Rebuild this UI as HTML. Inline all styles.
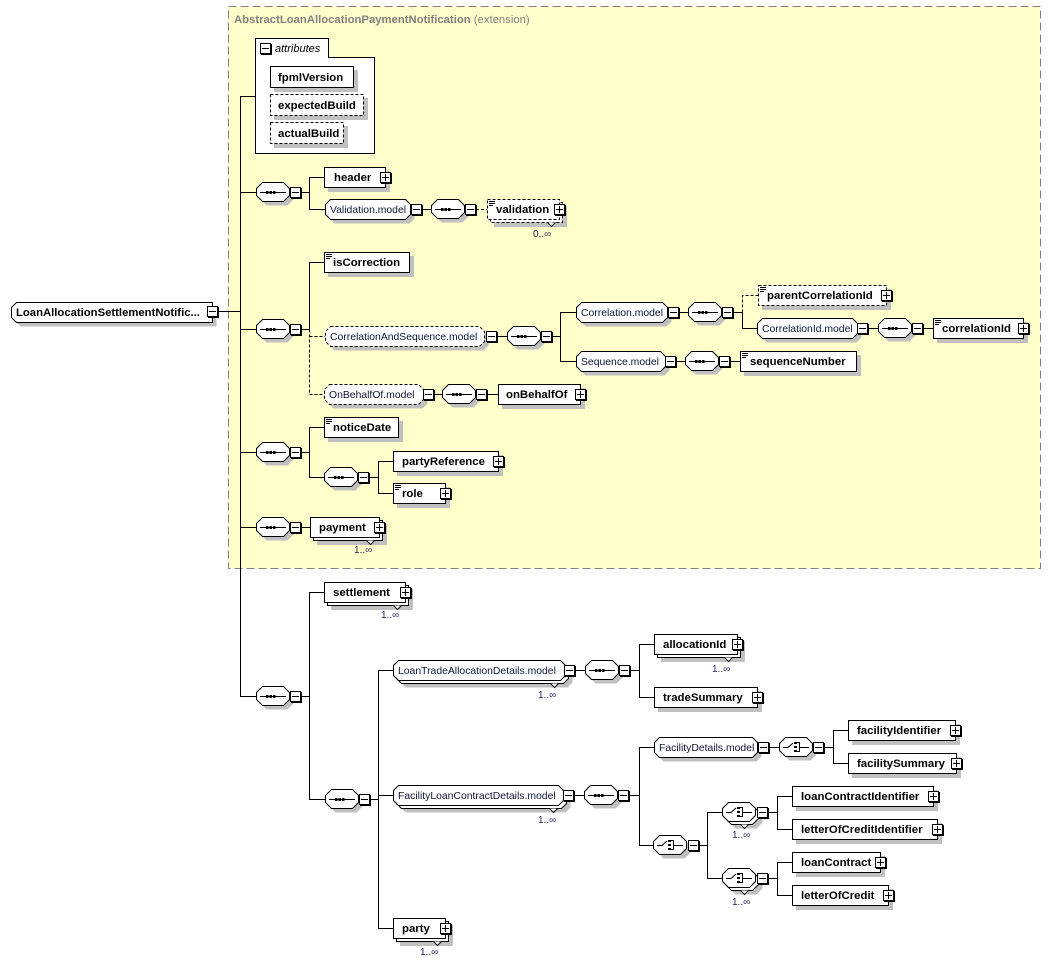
<!DOCTYPE html>
<html><head><meta charset="utf-8"><style>
html,body{margin:0;padding:0;background:#fff;}
svg{display:block}
.b{font-family:"Liberation Sans",sans-serif;font-weight:bold;font-size:11.4px;fill:#000}
.m{font-family:"Liberation Sans",sans-serif;font-size:10.4px;fill:#0e1634}
.o{font-family:"Liberation Sans",sans-serif;font-size:10px;fill:#2a1f5c}
.l{stroke:#000;fill:none}
.d{stroke:#000;fill:none;stroke-dasharray:3,2}
.sh{fill:#c0c0c0;stroke:none}
.w{fill:#fff;stroke:#000}
.wd{fill:#fff;stroke:#000;stroke-dasharray:3,2}
</style></head><body>
<svg width="1052" height="964" viewBox="0 0 1052 964" xmlns="http://www.w3.org/2000/svg" xmlns:xlink="http://www.w3.org/1999/xlink">
<defs>
<path id="oct" d="M6.5,0.5 h21 l6,6 v7 l-6,6 h-21 l-6,-6 v-7z"/>
<g id="seqi"><path d="M4,10.5H30" stroke="#000" fill="none"/><rect x="10" y="9" width="2.5" height="3"/><rect x="13.5" y="9" width="2.5" height="3"/><rect x="17" y="9" width="2.5" height="3"/></g>
<g id="seq"><use href="#oct" class="sh" transform="translate(4 4)"/><use href="#oct" class="w"/><use href="#seqi"/></g>
<g id="choi"><path d="M4,10.5H9L14,6" stroke="#000" fill="none"/><rect x="15" y="5" width="3" height="2"/><rect x="15" y="9" width="3" height="2"/><rect x="15" y="13" width="3" height="2"/><path d="M18,5.5H20.5V14.5H18M20.5,10.5H30" stroke="#000" fill="none"/></g>
<g id="cho"><use href="#oct" class="sh" transform="translate(4 4)"/><use href="#oct" class="w"/><use href="#choi"/></g>
<g id="choM"><use href="#oct" class="sh" transform="translate(7 7)"/><use href="#oct" class="w" transform="translate(3 3)"/><path class="w" d="M18.5,22.5 l4,4 l4,-4"/><use href="#oct" class="w"/><use href="#choi"/></g>
<g id="mi"><rect x="1" y="1" width="11" height="11" fill="#000"/><rect x="0.5" y="0.5" width="10" height="10" fill="#fff" stroke="#000"/><rect x="2" y="5" width="7" height="1" fill="#000"/></g>
<g id="pl"><use href="#mi"/><rect x="5" y="2" width="1" height="7" fill="#000"/></g>
<g id="eq"><rect x="2" y="2" width="6" height="1"/><rect x="2" y="4" width="6" height="1"/><rect x="2" y="6" width="4" height="1"/></g>
</defs>

<!-- yellow extension area -->
<rect x="228.5" y="6.5" width="812" height="562" fill="#ffffcc" stroke="#808080" stroke-dasharray="8,4"/>
<text x="234" y="23" style="font-family:'Liberation Sans',sans-serif;font-size:11.3px;font-weight:bold;fill:#808080">AbstractLoanAllocationPaymentNotification<tspan style="font-weight:normal"> (extension)</tspan></text>

<!-- root -->
<path class="sh" transform="translate(4 4)" d="M16.5,302.5H212.5V322.5H16.5L11.5,317.5V307.5Z"/>
<path class="w" d="M16.5,302.5H212.5V322.5H16.5L11.5,317.5V307.5Z"/>
<text class="b" x="16" y="316" style="font-size:11.3px">LoanAllocationSettlementNotific...</text>
<use href="#mi" x="207" y="306"/>
<path class="l" d="M218,311.5H240.5"/>

<!-- trunk -->
<path class="l" d="M240.5,96.5V696.5"/>

<!-- attributes -->
<path class="l" d="M240,96.5H255"/>
<path class="w" d="M255.5,38.5H328.5V57.5H374.5V153.5H255.5Z"/>
<use href="#mi" x="260" y="43"/>
<text x="275" y="52" style="font-family:'Liberation Sans',sans-serif;font-size:11px;font-style:italic;fill:#000">attributes</text>
<rect class="sh" x="274" y="70" width="84" height="22"/><rect class="w" x="270.5" y="66.5" width="83" height="21"/><text class="b" x="278" y="81">fpmlVersion</text>
<rect class="sh" x="274" y="98" width="94" height="22"/><rect class="wd" x="270.5" y="94.5" width="93" height="21"/><text class="b" x="278" y="109">expectedBuild</text>
<rect class="sh" x="274" y="126" width="74" height="22"/><rect class="wd" x="270.5" y="122.5" width="73" height="21"/><text class="b" x="278" y="137">actualBuild</text>

<!-- seq1 -->
<path class="l" d="M240,192.5H256M300,192.5H309.5M309.5,177.5V209.5M309,177.5H324M309,209.5H325"/>
<use href="#seq" x="256" y="182"/><use href="#mi" x="290" y="187"/>
<rect class="sh" x="328" y="171" width="62" height="21"/><rect class="w" x="324.5" y="167.5" width="61" height="20"/><text class="b" x="334" y="181">header</text><use href="#pl" x="380" y="172"/>
<path class="sh" transform="translate(4 4)" d="M330.5,199.5 h75 l5,5 v10 l-5,5 h-75 l-5,-5 v-10z"/>
<path class="w" d="M330.5,199.5 h75 l5,5 v10 l-5,5 h-75 l-5,-5 v-10z"/>
<text class="m" x="330" y="213">Validation.model</text><use href="#mi" x="411" y="204"/>
<path class="l" d="M421,209.5H431"/>
<use href="#seq" x="431" y="199"/><use href="#mi" x="465" y="204"/>
<path class="d" d="M476,209.5H487"/>
<rect class="sh" x="494" y="206" width="73" height="21"/>
<rect class="wd" x="490.5" y="202.5" width="72" height="20"/>
<path class="w" d="M547.5,222.5 l4,4 l4,-4"/>
<rect class="wd" x="487.5" y="199.5" width="72" height="20"/>
<use href="#eq" x="487" y="199"/>
<text class="b" x="496" y="213">validation</text><use href="#pl" x="554" y="204"/>
<text class="o" x="533" y="237">0..∞</text>

<!-- seq2 -->
<path class="l" d="M240,329.5H256M300,329.5H309.5M309.5,262.5V329.5M309,262.5H324"/>
<path class="d" d="M309.5,329.5V394.5M309.5,336.5H325M309.5,394.5H324"/>
<use href="#seq" x="256" y="319"/><use href="#mi" x="290" y="324"/>
<rect class="sh" x="328" y="256" width="86" height="21"/><rect class="w" x="324.5" y="252.5" width="85" height="20"/><use href="#eq" x="324" y="252"/><text class="b" x="333" y="266">isCorrection</text>

<path class="sh" transform="translate(4 4)" d="M330.5,326.5 h149 l5,5 v10 l-5,5 h-149 l-5,-5 v-10z"/>
<path class="wd" d="M330.5,326.5 h149 l5,5 v10 l-5,5 h-149 l-5,-5 v-10z"/>
<text class="m" x="330" y="340">CorrelationAndSequence.model</text><use href="#mi" x="486" y="331"/>
<path class="l" d="M497,336.5H507M552,336.5H560.5M560.5,312.5V361.5M560,312.5H576M560,361.5H576"/>
<use href="#seq" x="507" y="326"/><use href="#mi" x="541" y="331"/>

<path class="sh" transform="translate(4 4)" d="M581.5,302.5 h81 l5,5 v10 l-5,5 h-81 l-5,-5 v-10z"/>
<path class="w" d="M581.5,302.5 h81 l5,5 v10 l-5,5 h-81 l-5,-5 v-10z"/>
<text class="m" x="581" y="316">Correlation.model</text><use href="#mi" x="668" y="307"/>
<path class="l" d="M679,312.5H688M733,312.5H742.5M742.5,312.5V328.5H757"/>
<path class="d" d="M742.5,312.5V295.5H758"/>
<use href="#seq" x="688" y="302"/><use href="#mi" x="722" y="307"/>
<rect class="sh" x="762" y="289" width="129" height="21"/><rect class="wd" x="758.5" y="285.5" width="128" height="20"/><use href="#eq" x="758" y="285"/><text class="b" x="767" y="299">parentCorrelationId</text><use href="#pl" x="881" y="290"/>

<path class="sh" transform="translate(4 4)" d="M762.5,318.5 h90 l5,5 v10 l-5,5 h-90 l-5,-5 v-10z"/>
<path class="w" d="M762.5,318.5 h90 l5,5 v10 l-5,5 h-90 l-5,-5 v-10z"/>
<text class="m" x="762" y="332">CorrelationId.model</text><use href="#mi" x="857" y="323"/>
<path class="l" d="M868,328.5H878M923,328.5H933"/>
<use href="#seq" x="878" y="318"/><use href="#mi" x="912" y="323"/>
<rect class="sh" x="937" y="322" width="91" height="21"/><rect class="w" x="933.5" y="318.5" width="90" height="20"/><use href="#eq" x="933" y="318"/><text class="b" x="942" y="332">correlationId</text><use href="#pl" x="1018" y="323"/>

<path class="sh" transform="translate(4 4)" d="M581.5,351.5 h79 l5,5 v10 l-5,5 h-79 l-5,-5 v-10z"/>
<path class="w" d="M581.5,351.5 h79 l5,5 v10 l-5,5 h-79 l-5,-5 v-10z"/>
<text class="m" x="581" y="365">Sequence.model</text><use href="#mi" x="665" y="356"/>
<path class="l" d="M676,361.5H685M730,361.5H740"/>
<use href="#seq" x="685" y="351"/><use href="#mi" x="719" y="356"/>
<rect class="sh" x="744" y="355" width="117" height="21"/><rect class="w" x="740.5" y="351.5" width="116" height="20"/><use href="#eq" x="740" y="351"/><text class="b" x="750" y="365">sequenceNumber</text>

<path class="sh" transform="translate(4 4)" d="M329.5,384.5 h89 l5,5 v10 l-5,5 h-89 l-5,-5 v-10z"/>
<path class="wd" d="M329.5,384.5 h89 l5,5 v10 l-5,5 h-89 l-5,-5 v-10z"/>
<text class="m" x="329" y="398">OnBehalfOf.model</text><use href="#mi" x="423" y="389"/>
<path class="l" d="M434,394.5H442M487,394.5H498"/>
<use href="#seq" x="442" y="384"/><use href="#mi" x="476" y="389"/>
<rect class="sh" x="502" y="388" width="83" height="21"/><rect class="w" x="498.5" y="384.5" width="82" height="20"/><text class="b" x="506" y="398">onBehalfOf</text><use href="#pl" x="575" y="389"/>

<!-- seq3 -->
<path class="l" d="M240,452.5H256M300,452.5H309.5M309.5,427.5V477.5M309,427.5H324M309,477.5H324"/>
<use href="#seq" x="256" y="442"/><use href="#mi" x="290" y="447"/>
<rect class="sh" x="328" y="421" width="75" height="21"/><rect class="w" x="324.5" y="417.5" width="74" height="20"/><use href="#eq" x="324" y="417"/><text class="b" x="333" y="431">noticeDate</text>
<use href="#seq" x="324" y="467"/><use href="#mi" x="358" y="472"/>
<path class="l" d="M369,477.5H378.5M378.5,461.5V493.5M378,461.5H393M378,493.5H393"/>
<rect class="sh" x="397" y="455" width="106" height="21"/><rect class="w" x="393.5" y="451.5" width="105" height="20"/><text class="b" x="402" y="465">partyReference</text><use href="#pl" x="493" y="456"/>
<rect class="sh" x="397" y="487" width="53" height="21"/><rect class="w" x="393.5" y="483.5" width="52" height="20"/><use href="#eq" x="393" y="483"/><text class="b" x="402" y="497">role</text><use href="#pl" x="440" y="488"/>

<!-- seq4 -->
<path class="l" d="M240,527.5H256M300,527.5H310"/>
<use href="#seq" x="256" y="517"/><use href="#mi" x="290" y="522"/>
<rect class="sh" x="317" y="524" width="70" height="21"/>
<rect class="w" x="313.5" y="520.5" width="69" height="20"/>
<path class="w" d="M366.5,540.5 l4,4 l4,-4"/>
<rect class="w" x="310.5" y="517.5" width="69" height="20"/>
<text class="b" x="319" y="531">payment</text><use href="#pl" x="374" y="522"/>
<text class="o" x="354" y="553">1..∞</text>

<!-- seq5 -->
<path class="l" d="M240,696.5H256M300,696.5H309.5M309.5,592.5V799.5M309,592.5H324M309,799.5H325"/>
<use href="#seq" x="256" y="686"/><use href="#mi" x="290" y="691"/>
<rect class="sh" x="331" y="589" width="82" height="21"/>
<rect class="w" x="327.5" y="585.5" width="81" height="20"/>
<path class="w" d="M393.5,605.5 l4,4 l4,-4"/>
<rect class="w" x="324.5" y="582.5" width="81" height="20"/>
<text class="b" x="333" y="596">settlement</text><use href="#pl" x="400" y="587"/>
<text class="o" x="381" y="618">1..∞</text>

<use href="#seq" x="325" y="789"/><use href="#mi" x="359" y="794"/>
<path class="l" d="M370,799.5H378.5M378.5,670.5V928.5M378,670.5H393M378,795.5H393M378,928.5H393"/>

<!-- LoanTradeAllocationDetails.model -->
<path class="sh" transform="translate(7 7)" d="M398.5,660.5 h162 l5,5 v10 l-5,5 h-162 l-5,-5 v-10z"/>
<path class="w" transform="translate(3 3)" d="M398.5,660.5 h162 l5,5 v10 l-5,5 h-162 l-5,-5 v-10z"/>
<path class="w" d="M550.5,683.5 l4,4 l4,-4"/>
<path class="w" d="M398.5,660.5 h162 l5,5 v10 l-5,5 h-162 l-5,-5 v-10z"/>
<text class="m" x="398" y="674">LoanTradeAllocationDetails.model</text><use href="#mi" x="564" y="665"/>
<text class="o" x="538" y="698">1..∞</text>
<path class="l" d="M575,670.5H585M630,670.5H639.5M639.5,644.5V697.5M639,644.5H654M639,697.5H654"/>
<use href="#seq" x="585" y="660"/><use href="#mi" x="619" y="665"/>
<rect class="sh" x="661" y="641" width="84" height="21"/>
<rect class="w" x="657.5" y="637.5" width="83" height="20"/>
<path class="w" d="M724.5,657.5 l4,4 l4,-4"/>
<rect class="w" x="654.5" y="634.5" width="83" height="20"/>
<text class="b" x="663" y="648">allocationId</text><use href="#pl" x="732" y="639"/>
<text class="o" x="712" y="672">1..∞</text>
<rect class="sh" x="658" y="691" width="104" height="21"/><rect class="w" x="654.5" y="687.5" width="103" height="20"/><text class="b" x="663" y="701">tradeSummary</text><use href="#pl" x="752" y="692"/>

<!-- FacilityLoanContractDetails.model -->
<path class="sh" transform="translate(7 7)" d="M398.5,785.5 h160 l5,5 v10 l-5,5 h-160 l-5,-5 v-10z"/>
<path class="w" transform="translate(3 3)" d="M398.5,785.5 h160 l5,5 v10 l-5,5 h-160 l-5,-5 v-10z"/>
<path class="w" d="M549.5,808.5 l4,4 l4,-4"/>
<path class="w" d="M398.5,785.5 h160 l5,5 v10 l-5,5 h-160 l-5,-5 v-10z"/>
<text class="m" x="398" y="799">FacilityLoanContractDetails.model</text><use href="#mi" x="563" y="790"/>
<text class="o" x="538" y="823">1..∞</text>
<path class="l" d="M574,795.5H584M629,795.5H639.5M639.5,747.5V845.5M639,747.5H654M639,845.5H653"/>
<use href="#seq" x="584" y="785"/><use href="#mi" x="618" y="790"/>

<path class="sh" transform="translate(4 4)" d="M659.5,737.5 h93 l5,5 v10 l-5,5 h-93 l-5,-5 v-10z"/>
<path class="w" d="M659.5,737.5 h93 l5,5 v10 l-5,5 h-93 l-5,-5 v-10z"/>
<text class="m" x="659" y="751">FacilityDetails.model</text><use href="#mi" x="758" y="742"/>
<path class="l" d="M769,747.5H779M824,747.5H833.5M833.5,730.5V763.5M833,730.5H848M833,763.5H848"/>
<use href="#cho" x="779" y="737"/><use href="#mi" x="813" y="742"/>
<rect class="sh" x="852" y="724" width="108" height="21"/><rect class="w" x="848.5" y="720.5" width="107" height="20"/><text class="b" x="857" y="734">facilityIdentifier</text><use href="#pl" x="950" y="725"/>
<rect class="sh" x="852" y="757" width="109" height="21"/><rect class="w" x="848.5" y="753.5" width="108" height="20"/><text class="b" x="857" y="767">facilitySummary</text><use href="#pl" x="951" y="758"/>

<use href="#cho" x="653" y="835"/><use href="#mi" x="688" y="840"/>
<path class="l" d="M699,845.5H707.5M707.5,812.5V878.5M707,812.5H722M707,878.5H722"/>

<use href="#choM" x="722" y="802"/><use href="#mi" x="757" y="807"/>
<text class="o" x="732" y="838">1..∞</text>
<path class="l" d="M768,812.5H777.5M777.5,796.5V829.5M777,796.5H792M777,829.5H792"/>
<rect class="sh" x="796" y="790" width="142" height="21"/><rect class="w" x="792.5" y="786.5" width="141" height="20"/><text class="b" x="801" y="800">loanContractIdentifier</text><use href="#pl" x="928" y="791"/>
<rect class="sh" x="796" y="823" width="146" height="21"/><rect class="w" x="792.5" y="819.5" width="145" height="20"/><text class="b" x="801" y="833">letterOfCreditIdentifier</text><use href="#pl" x="932" y="824"/>

<use href="#choM" x="722" y="868"/><use href="#mi" x="757" y="873"/>
<text class="o" x="732" y="905">1..∞</text>
<path class="l" d="M768,878.5H777.5M777.5,862.5V895.5M777,862.5H792M777,895.5H792"/>
<rect class="sh" x="796" y="856" width="89" height="21"/><rect class="w" x="792.5" y="852.5" width="88" height="20"/><text class="b" x="801" y="866">loanContract</text><use href="#pl" x="875" y="857"/>
<rect class="sh" x="796" y="889" width="97" height="21"/><rect class="w" x="792.5" y="885.5" width="96" height="20"/><text class="b" x="801" y="899">letterOfCredit</text><use href="#pl" x="883" y="890"/>

<!-- party -->
<rect class="sh" x="400" y="925" width="53" height="21"/>
<rect class="w" x="396.5" y="921.5" width="52" height="20"/>
<path class="w" d="M433.5,941.5 l4,4 l4,-4"/>
<rect class="w" x="393.5" y="918.5" width="52" height="20"/>
<text class="b" x="402" y="932">party</text><use href="#pl" x="440" y="923"/>
<text class="o" x="420" y="955">1..∞</text>
</svg>
</body></html>
